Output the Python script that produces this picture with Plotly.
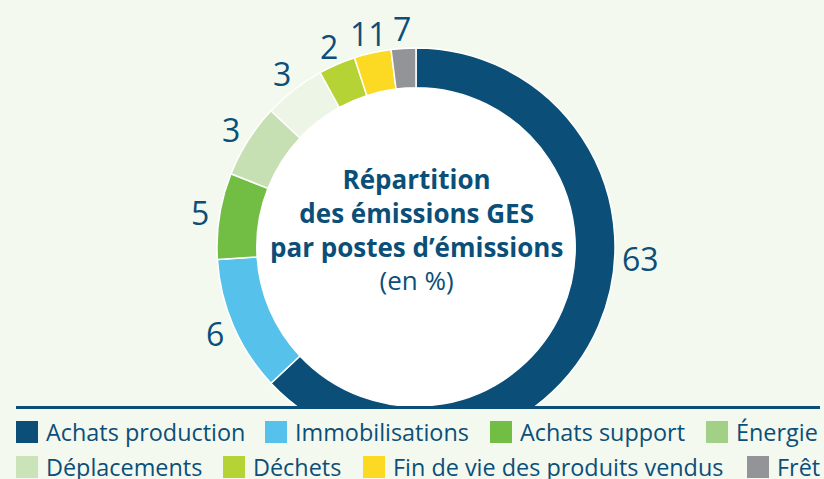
import math
import plotly.graph_objects as go

categories = ["Achats production", "Immobilisations", "Achats support", "Énergie",
              "Déplacements", "Déchets", "Fin de vie des produits vendus", "Frêt"]
values = [63, 11, 7, 6, 5, 3, 3, 2]
value_labels = ["63", "6", "5", "3", "3", "2", "11", "7"]
slice_colors = ["#0b4f78", "#56c2ec", "#72be45", "#c6e0b4", "#edf5e6", "#b6d335", "#fcd923", "#929497"]
legend_colors = ["#0b4f78", "#56c2ec", "#72be45", "#a3d087", "#cae3b9", "#b6d335", "#fcd923", "#929497"]
title_lines = ["Répartition", "des émissions GES", "par postes d’émissions"]
subtitle = "(en %)"

W, H = 824, 479
BG = "#f4f9f0"
TXT = "#0b4f78"
FONT = "Open Sans"

# pie geometry (pixels)
CX, CY, R = 416, 247, 199
HOLE = 0.8
LABEL_R = 219
MAIN_LABEL_ANGLE = 93  # the big slice label sits on the visible right side

fig = go.Figure()
fig.add_trace(go.Pie(
    labels=categories, values=values, textinfo="none",
    marker=dict(colors=slice_colors, line=dict(color="white", width=1.5)),
    hole=HOLE, sort=False, direction="clockwise", rotation=0,
    showlegend=False, hoverinfo="label+value",
    domain=dict(x=[(CX - R) / W, (CX + R) / W], y=[(H - CY - R) / H, (H - CY + R) / H]),
))

ann = []
# value labels around the ring, at each slice's mid-angle
total = sum(values)
cum = 0
for i, (v, lab) in enumerate(zip(values, value_labels)):
    mid = (cum + v / 2) / total * 360
    cum += v
    ang = MAIN_LABEL_ANGLE if i == 0 else mid
    rr = LABEL_R + (6 if i == 0 else 0)
    px = CX + rr * math.sin(math.radians(ang))
    py = CY - rr * math.cos(math.radians(ang))
    ann.append(dict(text=lab, x=px / W, y=1 - py / H, xref="paper", yref="paper",
                    showarrow=False, font=dict(size=32, color=TXT, family=FONT),
                    xanchor="center", yanchor="middle"))

center_text = "<br>".join(f"<b>{t}</b>" for t in title_lines) + "<br>" + subtitle
ann.append(dict(text=center_text, x=CX / W, y=1 - 230 / H, xref="paper", yref="paper",
                showarrow=False, font=dict(size=26, color=TXT, family=FONT),
                xanchor="center", yanchor="middle", align="center"))

hr = R * HOLE + 2
shapes = [
    dict(type="circle", xref="paper", yref="paper",
         x0=(CX - hr) / W, x1=(CX + hr) / W, y0=1 - (CY + hr) / H, y1=1 - (CY - hr) / H,
         fillcolor="white", line=dict(width=0), layer="below"),
    dict(type="rect", xref="paper", yref="paper", x0=0, x1=1, y0=0, y1=1 - 407 / H,
         fillcolor=BG, line=dict(width=0), layer="above"),
    dict(type="line", xref="paper", yref="paper", x0=16 / W, x1=820 / W,
         y0=1 - 407.5 / H, y1=1 - 407.5 / H, line=dict(color=TXT, width=3), layer="above"),
]

# legend layout: (row, square left x)
leg_pos = [(0, 16), (0, 265), (0, 490), (0, 706), (1, 16), (1, 223), (1, 363), (1, 747)]
row_y = [432, 467]
sq = 22
for name, col, (r, x0) in zip(categories, legend_colors, leg_pos):
    yc = row_y[r]
    shapes.append(dict(type="rect", xref="paper", yref="paper",
                       x0=x0 / W, x1=(x0 + sq) / W,
                       y0=1 - (yc + sq / 2) / H, y1=1 - (yc - sq / 2) / H,
                       fillcolor=col, line=dict(width=0), layer="above"))
    ann.append(dict(text=name, x=(x0 + sq + 6) / W, y=1 - yc / H, xref="paper", yref="paper",
                    showarrow=False, font=dict(size=23.4, color=TXT, family=FONT),
                    xanchor="left", yanchor="middle"))

fig.update_layout(
    width=W, height=H, margin=dict(l=0, r=0, t=0, b=0),
    paper_bgcolor=BG, plot_bgcolor=BG,
    annotations=ann, shapes=shapes, showlegend=False,
)
fig.write_html("out.html", config={"displayModeBar": False},
               post_script="document.body.style.margin='0';document.body.style.overflow='hidden';")
